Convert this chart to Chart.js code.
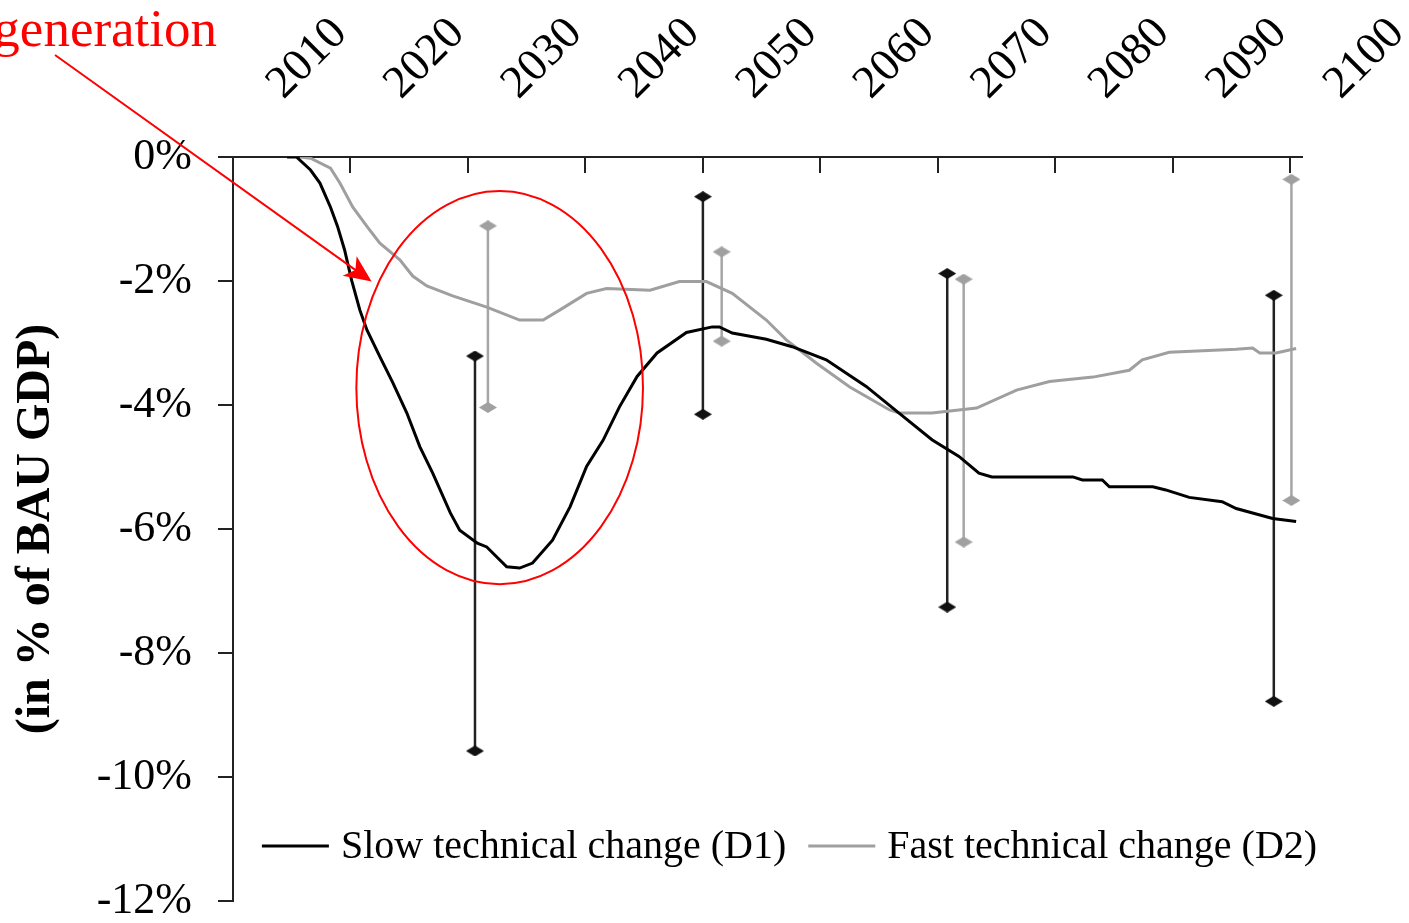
<!DOCTYPE html>
<html>
<head>
<meta charset="utf-8">
<script src="https://cdn.jsdelivr.net/npm/chart.js@4.4.1/dist/chart.umd.min.js"></script>
<style>
  html, body { margin: 0; padding: 0; background: #fff; }
  #wrap { width: 1409px; height: 923px; }
</style>
</head>
<body>
<div id="wrap"><canvas id="myChart"></canvas></div>
<script>
// top axis
const tickYears = [2010, 2020, 2030, 2040, 2050, 2060, 2070, 2080, 2090, 2100];
const tickLabels = ['2010', '2020', '2030', '2040', '2050', '2060', '2070', '2080', '2090', '2100'];

// Slow technical change (D1)
const d1Years = [2014.6, 2015.4, 2016.6, 2017.4, 2018.3, 2018.9, 2019.5, 2020.1, 2020.8, 2021.4,
  2022.5, 2023.6, 2024.8, 2025.9, 2027.0, 2028.5, 2029.3, 2030.8, 2031.6, 2033.3,
  2034.4, 2035.5, 2037.2, 2038.7, 2040.1, 2041.5, 2042.9, 2044.4, 2046.1, 2048.6,
  2050.8, 2051.4, 2052.5, 2055.4, 2057.6, 2060.5, 2063.9, 2066.7, 2069.5, 2071.8,
  2073.5, 2074.6, 2081.5, 2082.3, 2084.0, 2084.6, 2088.3, 2089.4, 2091.4, 2094.2,
  2095.4, 2098.5, 2100.5];
const d1Values = [0, 0, -0.21, -0.42, -0.81, -1.12, -1.5, -1.99, -2.47, -2.79,
  -3.22, -3.64, -4.13, -4.67, -5.10, -5.74, -6.02, -6.23, -6.29, -6.61,
  -6.63, -6.55, -6.18, -5.64, -4.99, -4.57, -4.03, -3.54, -3.16, -2.83,
  -2.74, -2.74, -2.84, -2.94, -3.06, -3.27, -3.70, -4.13, -4.56, -4.83,
  -5.10, -5.16, -5.16, -5.21, -5.21, -5.32, -5.32, -5.37, -5.49, -5.56,
  -5.67, -5.83, -5.88];

// Fast technical change (D2)
const d2Years = [2015.7, 2016.6, 2018.3, 2019.1, 2020.2, 2021.4, 2022.5, 2024.2, 2025.3, 2026.5,
  2028.7, 2031.6, 2034.4, 2036.4, 2037.8, 2040.1, 2041.8, 2045.5, 2048.0, 2050.3,
  2052.5, 2055.4, 2057.1, 2059.7, 2062.5, 2065.9, 2066.7, 2069.5, 2073.3, 2076.7,
  2079.5, 2083.2, 2086.3, 2087.4, 2089.7, 2095.4, 2096.8, 2097.4, 2098.8, 2100.5];
const d2Values = [0, -0.02, -0.18, -0.42, -0.81, -1.12, -1.39, -1.66, -1.92, -2.08,
  -2.24, -2.42, -2.63, -2.63, -2.47, -2.20, -2.12, -2.15, -2.01, -2.01,
  -2.20, -2.63, -2.95, -3.33, -3.71, -4.08, -4.13, -4.13, -4.05, -3.76,
  -3.62, -3.55, -3.44, -3.27, -3.15, -3.10, -3.08, -3.16, -3.16, -3.09];

// ranges
const d1BarYears = [2030.6, 2050.0, 2070.8, 2098.6];
const d1BarHigh = [-3.21, -0.64, -1.88, -2.23];
const d1BarLow = [-9.58, -4.15, -7.26, -8.78];
const d2BarYears = [2031.7, 2051.6, 2072.2, 2100.1];
const d2BarHigh = [-1.11, -1.53, -1.97, -0.36];
const d2BarLow = [-4.04, -2.97, -6.21, -5.54];

function toPoints(xs, ys) {
  return xs.map((x, i) => ({ x: x, y: ys[i] }));
}

function barPoints(years, high, low) {
  const pts = [];
  years.forEach((yr, i) => {
    pts.push({ x: yr, y: high[i] }, { x: yr, y: low[i] }, { x: yr, y: null });
  });
  return pts;
}

function diamond(color) {
  const c = document.createElement('canvas');
  c.width = 18;
  c.height = 11;
  const g = c.getContext('2d');
  g.fillStyle = color;
  g.beginPath();
  g.moveTo(9, 0);
  g.lineTo(18, 5.5);
  g.lineTo(9, 11);
  g.lineTo(0, 5.5);
  g.closePath();
  g.fill();
  return c;
}

// ticks on the top axis point down into the plot
const innerTicks = {
  id: 'innerTicks',
  afterDraw(chart) {
    const { ctx, chartArea } = chart;
    const x = chart.scales.x;
    ctx.save();
    ctx.strokeStyle = '#222';
    ctx.lineWidth = 2;
    x.ticks.forEach(t => {
      const px = Math.round(x.getPixelForValue(t.value));
      ctx.beginPath();
      ctx.moveTo(px, chartArea.top);
      ctx.lineTo(px, chartArea.top + 16);
      ctx.stroke();
    });
    ctx.restore();
  }
};

// legend sits inside the plot, near the bottom
const bottomLegend = {
  id: 'bottomLegend',
  afterDraw(chart) {
    const { ctx, chartArea } = chart;
    const items = chart.data.datasets.slice(0, 2);
    ctx.save();
    ctx.font = '40px "Liberation Serif"';
    ctx.textBaseline = 'middle';
    ctx.textAlign = 'left';
    const sample = 67, gap = 12, between = 22;
    const widths = items.map(d => ctx.measureText(d.label).width);
    let total = between;
    widths.forEach(w => { total += sample + gap + w; });
    let x = (chartArea.left + chartArea.right) / 2 + 22 - total / 2;
    const y = chartArea.bottom - 55;
    items.forEach((d, i) => {
      ctx.strokeStyle = d.borderColor;
      ctx.lineWidth = 3;
      ctx.beginPath();
      ctx.moveTo(x, y);
      ctx.lineTo(x + sample, y);
      ctx.stroke();
      x += sample + gap;
      ctx.fillStyle = '#000';
      ctx.fillText(d.label, x, y + 1);
      x += widths[i] + between;
    });
    ctx.restore();
  }
};

// red callout: ellipse, arrow and note
const callout = {
  id: 'callout',
  afterDraw(chart) {
    const { ctx } = chart;
    const x = chart.scales.x, y = chart.scales.y;
    ctx.save();
    ctx.strokeStyle = '#ff0000';
    ctx.fillStyle = '#ff0000';
    ctx.lineWidth = 2;

    const cx = x.getPixelForValue(2032.7), cy = y.getPixelForValue(-3.72);
    const rx = x.getPixelForValue(2032.7 + 12.2) - cx;
    const ry = y.getPixelForValue(-3.72 - 3.17) - cy;
    ctx.beginPath();
    ctx.ellipse(cx, cy, rx, ry, 0, 0, Math.PI * 2);
    ctx.stroke();

    const x0 = x.getPixelForValue(1994.85), y0 = y.getPixelForValue(1.645);
    const x1 = x.getPixelForValue(2021.8), y1 = y.getPixelForValue(-2.01);
    const len = Math.hypot(x1 - x0, y1 - y0);
    const ux = (x1 - x0) / len, uy = (y1 - y0) / len;
    ctx.beginPath();
    ctx.moveTo(x0, y0);
    ctx.lineTo(x1 - ux * 18, y1 - uy * 18);
    ctx.stroke();
    ctx.beginPath();
    ctx.moveTo(x1, y1);
    ctx.lineTo(x1 - ux * 27 - uy * 12, y1 - uy * 27 + ux * 12);
    ctx.lineTo(x1 - ux * 20, y1 - uy * 20);
    ctx.lineTo(x1 - ux * 27 + uy * 12, y1 - uy * 27 - ux * 12);
    ctx.closePath();
    ctx.fill();

    ctx.font = '53px "Liberation Serif"';
    ctx.textAlign = 'right';
    ctx.textBaseline = 'alphabetic';
    ctx.fillText('generation', x.getPixelForValue(2008.64), y.getPixelForValue(1.79));
    ctx.restore();
  }
};

Chart.defaults.font.family = '"Liberation Serif", serif';
Chart.defaults.color = '#000';

new Chart('myChart', {
  type: 'line',
  data: {
    datasets: [
      {
        label: 'Slow technical change (D1)',
        data: toPoints(d1Years, d1Values),
        borderColor: '#000000',
        borderWidth: 3,
        pointRadius: 0,
        tension: 0
      },
      {
        label: 'Fast technical change (D2)',
        data: toPoints(d2Years, d2Values),
        borderColor: '#9f9f9f',
        borderWidth: 3,
        pointRadius: 0,
        tension: 0
      },
      {
        label: 'D1 range',
        data: barPoints(d1BarYears, d1BarHigh, d1BarLow),
        borderColor: '#222222',
        borderWidth: 2.5,
        pointStyle: diamond('#111111'),
        pointRadius: 5
      },
      {
        label: 'D2 range',
        data: barPoints(d2BarYears, d2BarHigh, d2BarLow),
        borderColor: '#a6a6a6',
        borderWidth: 2.5,
        pointStyle: diamond('#a0a0a0'),
        pointRadius: 5
      }
    ]
  },
  options: {
    responsive: true,
    maintainAspectRatio: false,
    animation: false,
    layout: { padding: { left: 0, top: 0, right: 107, bottom: 22 } },
    plugins: {
      legend: { display: false },
      tooltip: { enabled: false }
    },
    scales: {
      x: {
        type: 'linear',
        position: 'top',
        min: 2010,
        max: 2101,
        afterBuildTicks: scale => { scale.ticks = tickYears.map(v => ({ value: v })); },
        afterFit: scale => { scale.height = 157; scale.paddingLeft = 0; scale.paddingRight = 0; },
        grid: { display: true, drawOnChartArea: false, drawTicks: false },
        border: { display: true, color: '#222', width: 2 },
        ticks: {
          autoSkip: false,
          minRotation: 45,
          maxRotation: 45,
          padding: 46,
          labelOffset: 81,
          font: { size: 46 },
          callback: (v, i) => tickLabels[i]
        }
      },
      y: {
        min: -12,
        max: 0,
        afterFit: scale => { scale.width = 233; scale.paddingTop = 0; scale.paddingBottom = 0; },
        grid: { drawOnChartArea: false, drawTicks: true, tickLength: 15, color: '#222', lineWidth: 2 },
        border: { display: true, color: '#222', width: 2 },
        ticks: {
          stepSize: 2,
          padding: 26,
          font: { size: 44 },
          callback: v => v + '%'
        },
        title: {
          display: true,
          text: '(in % of BAU GDP)',
          font: { size: 48, weight: 'bold' },
          padding: { top: 8, bottom: 0 }
        }
      }
    }
  },
  plugins: [innerTicks, bottomLegend, callout]
});
</script>
</body>
</html>
